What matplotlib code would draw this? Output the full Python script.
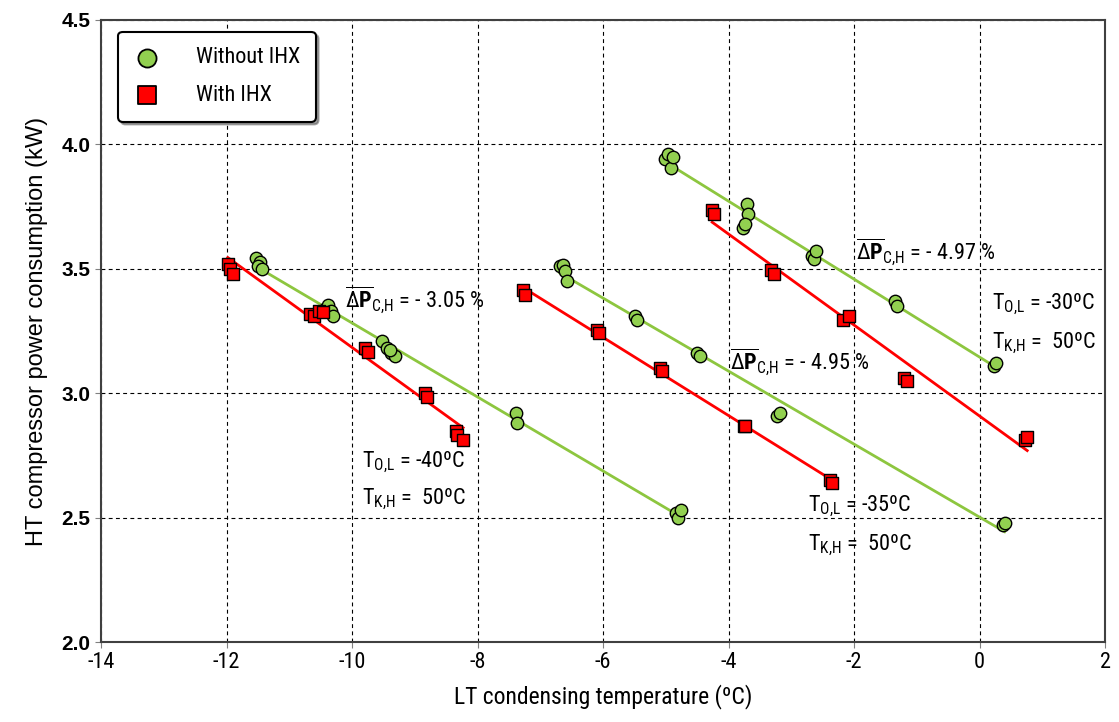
"""
HT compressor power consumption vs LT condensing temperature, with and without IHX
"""
import numpy as np
import matplotlib.pyplot as plt
from matplotlib import font_manager


def first_font(names):
    for n in names:
        try:
            font_manager.findfont(font_manager.FontProperties(family=n),
                                  fallback_to_default=False)
            return n
        except ValueError:
            continue
    return 'DejaVu Sans'


NARROW_NAME = first_font(['Liberation Sans Narrow', 'Arial Narrow', 'Roboto Condensed',
                          'DejaVu Sans Condensed', 'Liberation Sans'])
NARROW = [NARROW_NAME, 'DejaVu Sans']
SANS = [first_font(['Liberation Sans', 'Arial']), 'DejaVu Sans']

# --- data ---
# T_O,L = -40 C
x40_no = [-11.53, -11.47, -11.50, -11.43, -10.43, -10.38, -10.33, -10.30,
          -9.52, -9.45, -9.38, -9.32, -9.40, -7.38, -7.37, -4.84, -4.80, -4.76]
y40_no = [3.543, 3.527, 3.51, 3.50, 3.34, 3.355, 3.33, 3.31,
          3.21, 3.18, 3.16, 3.15, 3.175, 2.92, 2.88, 2.52, 2.50, 2.53]
x40_ihx = [-11.98, -11.95, -11.90, -10.67, -10.60, -10.52, -10.47,
           -9.79, -9.75, -8.84, -8.80, -8.34, -8.32, -8.23]
y40_ihx = [3.52, 3.50, 3.48, 3.32, 3.31, 3.33, 3.325,
           3.18, 3.165, 3.00, 2.985, 2.85, 2.83, 2.81]

# T_O,L = -35 C
x35_no = [-6.69, -6.64, -6.60, -6.58, -5.49, -5.46, -4.50, -4.45,
          -3.23, -3.18, 0.37, 0.40]
y35_no = [3.51, 3.515, 3.49, 3.45, 3.31, 3.295, 3.16, 3.15,
          2.91, 2.92, 2.47, 2.48]
x35_ihx = [-7.27, -7.24, -6.10, -6.06, -5.09, -5.06, -3.75, -3.73,
           -2.38, -2.35]
y35_ihx = [3.415, 3.395, 3.255, 3.24, 3.10, 3.09, 2.87, 2.868,
           2.65, 2.638]

# T_O,L = -30 C
x30_no = [-5.01, -4.97, -4.92, -4.88, -3.71, -3.69, -3.77, -3.74,
          -2.67, -2.64, -2.60, -1.35, -1.31, 0.23, 0.27]
y30_no = [3.94, 3.96, 3.905, 3.95, 3.76, 3.72, 3.665, 3.68,
          3.55, 3.54, 3.57, 3.37, 3.35, 3.11, 3.12]
x30_ihx = [-4.26, -4.23, -3.32, -3.28, -2.17, -2.08, -1.20, -1.16,
           0.72, 0.76]
y30_ihx = [3.735, 3.72, 3.495, 3.48, 3.295, 3.31, 3.06, 3.05,
           2.81, 2.825]

dp_labels = [r'$\overline{\Delta\mathbf{P}}_{\mathrm{C{,}H}}$ = - 3.05 %',
             r'$\overline{\Delta\mathbf{P}}_{\mathrm{C{,}H}}$ = - 4.95 %',
             r'$\overline{\Delta\mathbf{P}}_{\mathrm{C{,}H}}$ = - 4.97 %']
tol_labels = [r'T$_{\mathrm{O{,}L}}$ = -40ºC', r'T$_{\mathrm{O{,}L}}$ = -35ºC',
              r'T$_{\mathrm{O{,}L}}$ = -30ºC']
tkh_label = r'T$_{\mathrm{K{,}H}}$ =  50ºC'

GREEN_FILL = '#92D050'
GREEN_LINE = '#8DC63F'
RED = '#FF0000'

plt.rcParams['mathtext.fontset'] = 'custom'
plt.rcParams['mathtext.rm'] = NARROW_NAME
plt.rcParams['mathtext.bf'] = NARROW_NAME + ':bold'

fig = plt.figure(figsize=(11.19, 7.22), dpi=100)
ax = fig.add_axes([0.0903, 0.1108, 0.8972, 0.8615])


def fit_line(ax, x, y, color):
    x = np.asarray(x)
    k, b = np.polyfit(x, y, 1)
    xs = np.array([x.min(), x.max()])
    ax.plot(xs, k * xs + b, color=color, lw=2, zorder=2)


for xn, yn, xi, yi in [(x40_no, y40_no, x40_ihx, y40_ihx),
                       (x35_no, y35_no, x35_ihx, y35_ihx),
                       (x30_no, y30_no, x30_ihx, y30_ihx)]:
    fit_line(ax, xn, yn, GREEN_LINE)
    fit_line(ax, xi, yi, RED)
    ax.scatter(xn, yn, s=80, marker='o', color=GREEN_FILL, edgecolor='black',
               linewidth=1, zorder=3)
    ax.scatter(xi, yi, s=75, marker='s', color=RED, edgecolor='black',
               linewidth=1, zorder=3)

# legend handles
h1 = ax.scatter([], [], s=170, marker='o', color=GREEN_FILL, edgecolor='black', linewidth=1.3)
h2 = ax.scatter([], [], s=170, marker='s', color=RED, edgecolor='black', linewidth=1.3)
leg = ax.legend([h1, h2], ['Without IHX', 'With IHX'], loc='upper left',
                bbox_to_anchor=(0.017, 0.981), borderaxespad=0,
                fancybox=True, shadow=True,
                frameon=True, edgecolor='black', labelspacing=0.75,
                borderpad=0.7, handlelength=1.2, handletextpad=1.6,
                prop={'family': NARROW, 'size': 16})
leg.get_frame().set_linewidth(1.5)

# annotations
txt = dict(fontsize=16, family=NARROW, va='center', ha='left')
ax.text(-10.11, 3.375, dp_labels[0], **txt)
ax.text(-3.98, 3.125, dp_labels[1], **txt)
ax.text(-1.97, 3.57, dp_labels[2], **txt)
ax.text(-9.84, 2.72, tol_labels[0], **txt)
ax.text(-9.84, 2.575, tkh_label, **txt)
ax.text(-2.73, 2.545, tol_labels[1], **txt)
ax.text(-2.73, 2.39, tkh_label, **txt)
ax.text(0.2, 3.355, tol_labels[2], **txt)
ax.text(0.2, 3.2, tkh_label, **txt)

ax.set_xlim(-14, 2)
ax.set_ylim(2.0, 4.5)
ax.set_xticks(np.arange(-14, 3, 2))
ax.set_yticks(np.arange(2.0, 4.51, 0.5))
ax.set_yticklabels([f'{v:.1f}' for v in np.arange(2.0, 4.51, 0.5)],
                   fontsize=15, fontweight='bold', family=SANS)
ax.set_xticklabels([str(v) for v in range(-14, 3, 2)], fontsize=16, family=NARROW)
ax.tick_params(direction='out', length=4, color='gray')
ax.grid(True, linestyle=(0, (3.5, 3)), color='black', linewidth=0.8)
for s in ax.spines.values():
    s.set_color('#404040')
    s.set_linewidth(1.5)

ax.set_xlabel('LT condensing temperature (ºC)', fontsize=17, family=NARROW, labelpad=8)
ax.set_ylabel('HT compressor power consumption (kW)', fontsize=17,
              family=SANS, labelpad=10)

fig.savefig('out.png', dpi=100)
